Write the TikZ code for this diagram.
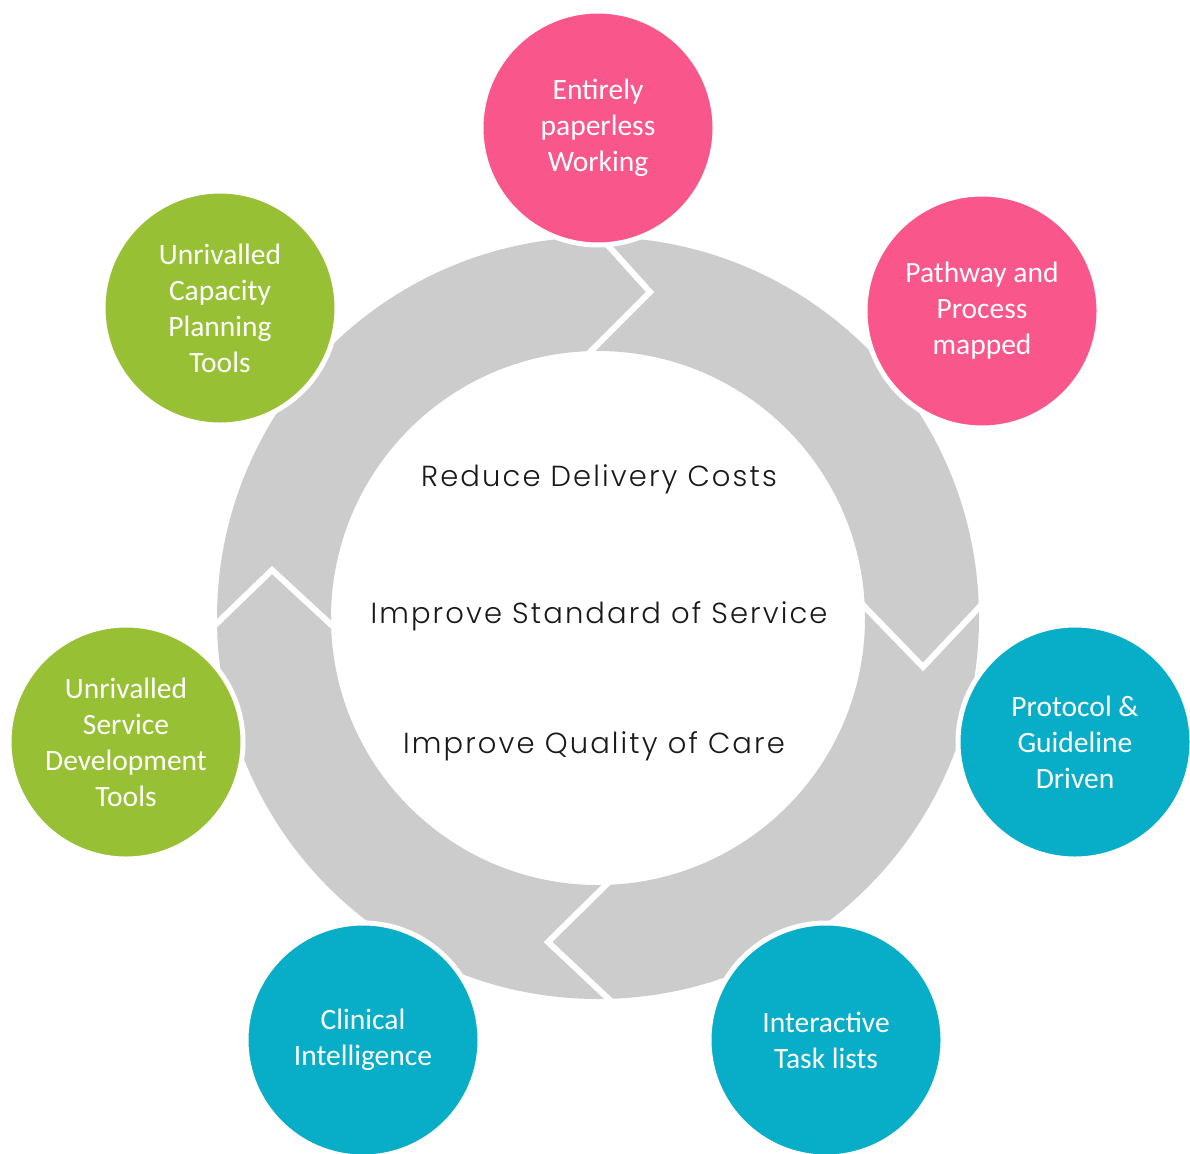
\documentclass[tikz,border=0pt]{standalone}
\usepackage{fontspec}
\setmainfont{Carlito}
\IfFontExistsTF{Poppins Light}{\newfontfamily\cfont{Poppins Light}[LetterSpace=7.3]}{\newfontfamily\cfont{Poppins}[LetterSpace=7.3]}
\definecolor{pinkc}{RGB}{249,86,139}
\definecolor{greenc}{RGB}{151,192,52}
\definecolor{tealc}{RGB}{8,173,199}
\definecolor{ringc}{RGB}{204,204,204}
\tikzset{
  bub/.style={circle, minimum size=234pt, inner sep=0pt, draw=white, line width=5pt,
    text=white, align=center, font=\fontsize{29.5}{36}\selectfont},
  gapline/.style={draw=white, line width=6pt, line join=miter},
  ctext/.style={anchor=base, text=black!90, font=\cfont\fontsize{29}{34}\selectfont}
}
\begin{document}
\begin{tikzpicture}[x=1pt,y=-1pt]
\useasboundingbox (0,0) rectangle (1190,1153);
% ring
\fill[ringc, even odd rule] (598,618) circle[radius=381] (598,618) circle[radius=267];
% chevron gaps
\coordinate (g1a) at (586,356); \coordinate (g1b) at (650,292); \coordinate (g1c) at (595,231);
\coordinate (g2a) at (859,601); \coordinate (g2b) at (923,667); \coordinate (g2c) at (985,601);
\coordinate (g3a) at (614,877); \coordinate (g3b) at (548,942); \coordinate (g3c) at (614,1004);
\coordinate (g4a) at (211,629); \coordinate (g4b) at (272,570); \coordinate (g4c) at (338,631);
\draw[gapline] (g1a) -- (g1b) -- (g1c);
\draw[gapline] (g2a) -- (g2b) -- (g2c);
\draw[gapline] (g3a) -- (g3b) -- (g3c);
\draw[gapline] (g4a) -- (g4b) -- (g4c);
% centre texts
\node[ctext] (t1) at (599,486) {Reduce Delivery Costs};
\node[ctext] (t2) at (599,623) {Improve Standard of Service};
\node[ctext] (t3) at (594,753) {Improve Quality of Care};
% bubbles
\node[bub, fill=pinkc] (b1) at (598,128) {Entirely\\paperless\\Working};
\node[bub, fill=pinkc] (b2) at (982,311) {Pathway and\\Process\\mapped};
\node[bub, fill=tealc] (b3) at (1075,742) {Protocol \&\\Guideline\\Driven};
\node[bub, fill=tealc] (b4) at (826,1040) {Interactive\\Task lists};
\node[bub, fill=tealc] (b5) at (363,1040) {Clinical\\Intelligence};
\node[bub, fill=greenc] (b6) at (126,742) {Unrivalled\\Service\\Development\\Tools};
\node[bub, fill=greenc] (b7) at (220,308) {Unrivalled\\Capacity\\Planning\\Tools};
\end{tikzpicture}
\end{document}
